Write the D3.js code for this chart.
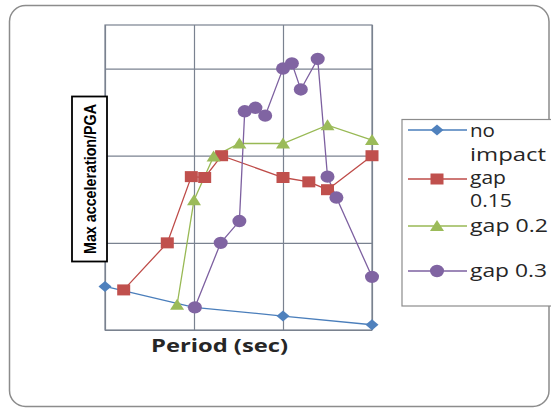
<!DOCTYPE html>
<html><head><meta charset="utf-8">
<script src="https://cdn.jsdelivr.net/npm/d3@7"></script>
<style>body{margin:0;background:#fff}svg{display:block}</style>
</head><body><svg id="c" width="551" height="409"></svg>
<script>
// Data (abstract units; axes carry no numeric labels)
const xTicks = [0, 1, 2, 3];
const yTicks = [0, 1, 2, 3];
const noImpactX = [0, 1, 2, 3];
const noImpactY = [0.50, 0.26, 0.16, 0.06];
const gap015X = [0.21, 0.70, 0.97, 1.12, 1.31, 2.00, 2.29, 2.50, 3.00];
const gap015Y = [0.46, 1.00, 1.76, 1.75, 2.00, 1.75, 1.70, 1.61, 2.00];
const gap02X = [0.81, 1.00, 1.22, 1.51, 2.00, 2.50, 3.00];
const gap02Y = [0.29, 1.49, 1.99, 2.14, 2.14, 2.35, 2.18];
const gap03X = [1.01, 1.30, 1.51, 1.57, 1.69, 1.80, 2.00, 2.10, 2.20, 2.39, 2.50, 2.60, 3.00];
const gap03Y = [0.26, 1.00, 1.25, 2.51, 2.55, 2.46, 3.00, 3.06, 2.76, 3.11, 1.76, 1.52, 0.61];
const seriesNames = ["no impact", "gap 0.15", "gap 0.2", "gap 0.3"];

const series = [
  {name: seriesNames[0], xs: noImpactX, ys: noImpactY, line: "#4A7EBB", fill: "#4F81BD", shape: "diamond"},
  {name: seriesNames[1], xs: gap015X, ys: gap015Y, line: "#BE4B48", fill: "#C0504D", shape: "square"},
  {name: seriesNames[2], xs: gap02X, ys: gap02Y, line: "#98B954", fill: "#9BBB59", shape: "triangle"},
  {name: seriesNames[3], xs: gap03X, ys: gap03Y, line: "#7D60A0", fill: "#8064A2", shape: "circle"}
];

const svg = d3.select("#c");
// chart area frame
svg.append("rect").attr("x", 9.5).attr("y", 5.5).attr("width", 539.5).attr("height", 401)
  .attr("rx", 16).attr("fill", "#fff").attr("stroke", "#8c8c8c").attr("stroke-width", 1.5);

const L = 105, R = 372, T = 25, B = 330;
const x = d3.scaleLinear().domain([0, 3]).range([L, R]);
const y = d3.scaleLinear().domain([0, 3.5]).range([B, T]);

const grid = "#7a8290";
svg.append("g").attr("transform", `translate(0,${B})`)
  .call(d3.axisBottom(x).tickValues(xTicks).tickSize(-(B - T)).tickFormat(""))
  .call(g => g.select(".domain").remove())
  .call(g => g.selectAll("line").attr("stroke", grid).attr("stroke-width", 1.2));
svg.append("g").attr("transform", `translate(${L},0)`)
  .call(d3.axisLeft(y).tickValues(yTicks).tickSize(-(R - L)).tickFormat(""))
  .call(g => g.select(".domain").remove())
  .call(g => g.selectAll("line").attr("stroke", grid).attr("stroke-width", 1.2));
svg.append("rect").attr("x", L).attr("y", T).attr("width", R - L).attr("height", B - T)
  .attr("fill", "none").attr("stroke", grid).attr("stroke-width", 1.2);

function marker(sel, shape, fill) {
  if (shape === "diamond") sel.append("path").attr("d", "M0,-5.5L6.5,0L0,5.5L-6.5,0Z").attr("fill", fill);
  else if (shape === "square") sel.append("rect").attr("x", -6.5).attr("y", -5.5).attr("width", 13).attr("height", 11).attr("fill", fill);
  else if (shape === "triangle") sel.append("path").attr("d", "M0,-6L7,5L-7,5Z").attr("fill", fill);
  else sel.append("ellipse").attr("rx", 7).attr("ry", 6.2).attr("fill", fill);
}

const line = d3.line().x(d => x(d[0])).y(d => y(d[1]));
series.forEach(s => {
  const pts = s.xs.map((v, i) => [v, s.ys[i]]);
  svg.append("path").attr("d", line(pts)).attr("fill", "none").attr("stroke", s.line).attr("stroke-width", 1.3);
});
series.forEach(s => {
  s.xs.forEach((v, i) => {
    const g = svg.append("g").attr("transform", `translate(${x(v)},${y(s.ys[i])})`);
    marker(g, s.shape, s.fill);
  });
});

// Y axis title box
svg.append("rect").attr("x", 72).attr("y", 96.5).attr("width", 35).attr("height", 165)
  .attr("fill", "#fff").attr("stroke", "#000").attr("stroke-width", 1.8);
svg.append("text").attr("transform", "translate(95.5,179) rotate(-90)")
  .attr("text-anchor", "middle").attr("font-family", "Liberation Sans, sans-serif")
  .attr("font-weight", "bold").attr("font-size", 16).attr("fill", "#000")
  .attr("textLength", 150).attr("lengthAdjust", "spacingAndGlyphs")
  .text("Max acceleration/PGA");

// X axis title
svg.append("text").attr("x", 151).attr("y", 352)
  .attr("font-family", "Open Sans, sans-serif").attr("font-weight", "bold").attr("font-size", 18)
  .attr("fill", "#262626").attr("textLength", 137).attr("lengthAdjust", "spacingAndGlyphs")
  .text("Period (sec)");

// Legend
svg.append("rect").attr("x", 402).attr("y", 119.5).attr("width", 170).attr("height", 186.5)
  .attr("fill", "#fff").attr("stroke", "#8c8c8c").attr("stroke-width", 1.2);
const legRows = [
  {s: series[0], my: 130, lines: [["no", 137], ["impact", 161]]},
  {s: series[1], my: 179, lines: [["gap", 184], ["0.15", 207]]},
  {s: series[2], my: 226, lines: [["gap 0.2", 232]]},
  {s: series[3], my: 271, lines: [["gap 0.3", 277]]}
];
const widths = {"no": 25, "impact": 76, "gap": 36, "0.15": 42, "gap 0.2": 78, "gap 0.3": 77};
legRows.forEach(r => {
  svg.append("line").attr("x1", 408).attr("x2", 467).attr("y1", r.my).attr("y2", r.my)
    .attr("stroke", r.s.line).attr("stroke-width", 1.3);
  const g = svg.append("g").attr("transform", `translate(437,${r.my})`);
  marker(g, r.s.shape, r.s.fill);
  r.lines.forEach(([t, by]) => {
    svg.append("text").attr("x", 470).attr("y", by)
      .attr("font-family", "Open Sans, sans-serif").attr("font-size", 18).attr("fill", "#262626")
      .attr("textLength", widths[t]).attr("lengthAdjust", "spacingAndGlyphs")
      .text(t);
  });
});
</script></body></html>
